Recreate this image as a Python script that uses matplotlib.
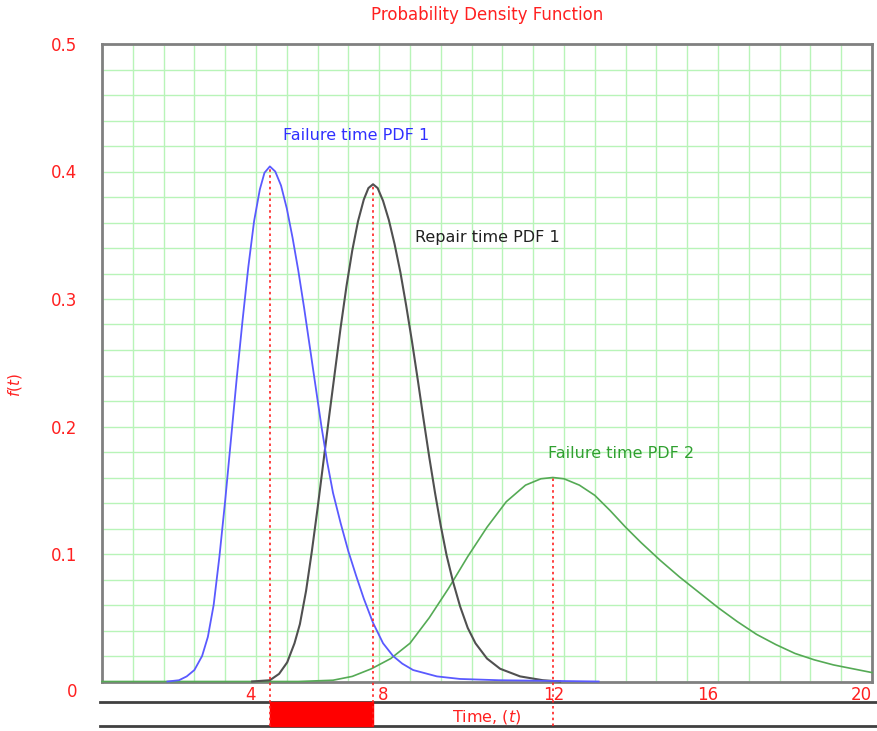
import matplotlib
matplotlib.use("Agg")
import matplotlib.pyplot as plt
import matplotlib.transforms as mtransforms
from matplotlib.patches import Rectangle
import numpy as np

# Failure time PDF 1 (blue)
fail1_x = [1.70, 2.00, 2.20, 2.40, 2.60, 2.75, 2.90, 3.05, 3.20, 3.35, 3.50, 3.65,
           3.80, 3.95, 4.10, 4.22, 4.36, 4.50, 4.65, 4.80, 4.95, 5.10, 5.25, 5.40,
           5.55, 5.70, 5.85, 6.00, 6.20, 6.40, 6.60, 6.80, 7.04, 7.30, 7.56, 7.80,
           8.08, 8.70, 9.30, 10.30, 12.90]
fail1_y = [0.000, 0.001, 0.004, 0.009, 0.020, 0.035, 0.060, 0.098, 0.142, 0.190, 0.238, 0.283,
           0.325, 0.361, 0.386, 0.399, 0.404, 0.400, 0.389, 0.371, 0.348, 0.322, 0.293, 0.262,
           0.231, 0.200, 0.172, 0.148, 0.124, 0.102, 0.083, 0.065, 0.046, 0.030, 0.020, 0.014,
           0.009, 0.004, 0.002, 0.001, 0.000]

# Repair time PDF 1 (black)
rep1_x = [3.90, 4.36, 4.60, 4.81, 5.00, 5.14, 5.30, 5.45, 5.60, 5.75, 5.90, 6.05, 6.20,
          6.35, 6.50, 6.65, 6.80, 6.92, 7.04, 7.16, 7.30, 7.45, 7.60, 7.75, 7.90, 8.05,
          8.20, 8.35, 8.50, 8.65, 8.80, 8.95, 9.12, 9.30, 9.50, 9.70, 10.00, 10.34,
          10.86, 11.45, 11.90]
rep1_y = [0.000, 0.001, 0.006, 0.015, 0.030, 0.045, 0.071, 0.102, 0.136, 0.172, 0.208, 0.243, 0.278,
          0.310, 0.338, 0.361, 0.378, 0.387, 0.390, 0.387, 0.377, 0.362, 0.343, 0.321, 0.295, 0.267,
          0.237, 0.206, 0.176, 0.148, 0.122, 0.099, 0.078, 0.059, 0.042, 0.030, 0.018, 0.010,
          0.004, 0.001, 0.000]

# Failure time PDF 2 (green)
fail2_x = [0.0, 5.10, 6.00, 6.50, 7.00, 7.50, 8.00, 8.50, 9.00, 9.50, 10.00, 10.50, 11.00,
           11.40, 11.71, 12.00, 12.40, 12.80, 13.20, 13.60, 14.00, 14.50, 15.00, 15.50,
           16.00, 16.50, 17.00, 17.50, 18.00, 18.50, 19.00, 19.50, 20.00]
fail2_y = [0.0, 0.000, 0.001, 0.004, 0.010, 0.018, 0.030, 0.050, 0.073, 0.098, 0.121, 0.141, 0.154,
           0.159, 0.160, 0.159, 0.154, 0.146, 0.134, 0.121, 0.109, 0.095, 0.082, 0.070,
           0.058, 0.047, 0.037, 0.029, 0.022, 0.017, 0.013, 0.010, 0.007]

peak_x = [4.36, 7.04, 11.71]
peak_y = [0.404, 0.390, 0.160]

x_ticks = [4, 8, 12, 16, 20]
y_ticks = [0.1, 0.2, 0.3, 0.4, 0.5]

RED = "#ff2020"
W, H = 877, 731

fig = plt.figure(figsize=(W / 100, H / 100), dpi=100)
ax = fig.add_axes([102 / W, 1 - 681.5 / H, 770 / W, 637.5 / H])

ax.set_xlim(0, 20)
ax.set_ylim(0, 0.5)

# grid
ax.set_xticks(x_ticks)
ax.set_xticks(np.arange(0, 20.01, 0.8), minor=True)
ax.set_yticks(y_ticks)
ax.set_yticks(np.arange(0, 0.501, 0.02), minor=True)
ax.grid(True, which="both", color="#b8f4b8", linewidth=1.0, zorder=0)
ax.set_axisbelow(True)

ax.tick_params(which="both", length=0)
ax.tick_params(axis="x", colors=RED, labelsize=12, pad=3)
ax.tick_params(axis="y", colors=RED, labelsize=12, pad=18)
ax.set_xticklabels([str(t) for t in x_ticks], ha="right")
ax.set_yticklabels([f"{t:.1f}" for t in y_ticks])

# the "8" label sits a little left of its tick in the original
shift = mtransforms.ScaledTranslation(-0.22, 0, fig.dpi_scale_trans)
lbl8 = ax.get_xticklabels()[1]
lbl8.set_transform(lbl8.get_transform() + shift)

for s in ax.spines.values():
    s.set_color("#808080")
    s.set_linewidth(2)
    s.set_zorder(1)

# curves
ax.plot(fail2_x, fail2_y, color="#55aa55", lw=1.2, clip_on=False, zorder=3)
ax.plot(rep1_x, rep1_y, color="#505050", lw=1.5, clip_on=False, zorder=4)
ax.plot(fail1_x, fail1_y, color="#5a5aff", lw=1.3, clip_on=False, zorder=5)

# peak markers
for px, py in zip(peak_x, peak_y):
    ax.plot([px, px], [-0.035, py], color=RED, lw=1.2, ls=(0, (1.5, 2)),
            clip_on=False, zorder=6)

# bar below axis
ax.axhline(-0.0161, xmin=-0.003, xmax=1.007, color="#404040", lw=2, clip_on=False)
ax.axhline(-0.0349, xmin=-0.003, xmax=1.007, color="#404040", lw=2, clip_on=False)
ax.add_patch(Rectangle((peak_x[0], -0.0349), peak_x[1] - peak_x[0], 0.0188,
                       color="red", clip_on=False, zorder=5))

# labels
ax.text(4.70, 0.428, "Failure time PDF 1", color="#3030ff", fontsize=11.5, va="center")
ax.text(8.13, 0.348, "Repair time PDF 1", color="#202020", fontsize=11.5, va="center")
ax.text(11.58, 0.179, "Failure time PDF 2", color="#30a030", fontsize=11.5, va="center")

fig.text(487 / W, 1 - 15 / H, "Probability Density Function", color=RED,
         fontsize=12, ha="center", va="center")
fig.text(77 / W, 1 - 692 / H, "0", color=RED, fontsize=12, ha="right", va="center")
fig.text(452 / W, 1 - 717 / H, r"Time, ($t$)", color=RED, fontsize=11.5,
         ha="left", va="center")
fig.text(15 / W, 1 - 385 / H, r"$f$($t$)", color=RED, fontsize=11,
         rotation=90, ha="center", va="center")

fig.savefig("out.png", dpi=100)
